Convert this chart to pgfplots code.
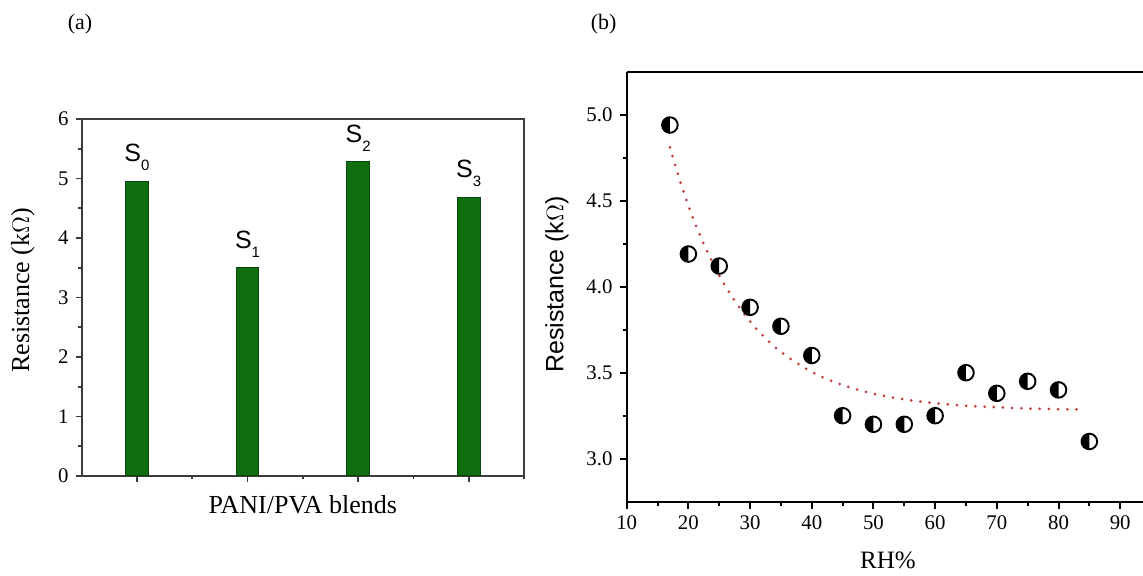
\documentclass[border=0pt]{standalone}
\usepackage{fontspec}
\setmainfont{Liberation Serif}
\setsansfont{Liberation Sans}
\usepackage{pgfplots}
\pgfplotsset{compat=1.18}
\usetikzlibrary{plotmarks}
\definecolor{bargreen}{RGB}{14,110,16}
\definecolor{baredge}{RGB}{10,70,10}
\definecolor{fitred}{RGB}{196,62,62}
\definecolor{axgray}{RGB}{60,60,60}
\begin{document}
\begin{tikzpicture}
\useasboundingbox (0,0) rectangle (571.5pt,288pt);
\pgfplotsset{
  /pgf/number format/assume math mode=true,
  every tick label/.append style={font=\fontsize{10.4}{12}\selectfont},
}
\node[font=\fontsize{11}{13}\selectfont] at (40pt,276pt) {(a)};
\node[font=\fontsize{11}{13}\selectfont] at (301.8pt,276pt) {(b)};
% ---------------- panel (a)
\begin{axis}[
  at={(40.85pt,50pt)}, anchor=south west,
  scale only axis, width=221.15pt, height=178.5pt,
  xmin=-0.5, xmax=3.5, ymin=0, ymax=6,
  xtick={0,1,2,3}, xticklabels={},
  minor xtick={0.5,1.5,2.5,3.5},
  ytick={0,1,2,3,4,5,6},
  minor ytick={0.5,1.5,2.5,3.5,4.5,5.5},
  xtick pos=left, ytick pos=left, tick align=outside,
  major tick length=3pt, minor tick length=1.6pt,
  every tick/.style={axgray, line width=0.9pt},
  axis line style={axgray, line width=0.9pt},
  xlabel={PANI/PVA blends}, ylabel={Resistance (k$\Omega$)},
  label style={font=\fontsize{13}{15}\selectfont},
  xlabel style={at={(axis description cs:0.5,-0.081)}, anchor=center},
  ylabel style={at={(axis description cs:-0.133,0.52)}, anchor=center},
  ybar, bar width=11.35pt,
  point meta=explicit symbolic,
  nodes near coords={\sffamily S\raisebox{-4.6pt}{\fontsize{7.5}{7.5}\selectfont\pgfplotspointmeta}},
  every node near coord/.append style={anchor=south, inner sep=0pt, yshift=5pt,
     font=\fontsize{12.5}{14}\selectfont, text=black},
]
\addplot[fill=bargreen, draw=baredge, line width=0.5pt] coordinates {
  (0,4.95) [0]
  (1,3.50) [1]
  (2,5.28) [2]
  (3,4.68) [3]
};
\end{axis}
% ---------------- panel (b)
\begin{axis}[
  at={(313.35pt,37.15pt)}, anchor=south west,
  scale only axis, width=258.15pt, height=215pt,
  xmin=10, xmax=93.7, ymin=2.75, ymax=5.25,
  axis x line=box, axis y line=left,
  axis line style={-, black, line width=1pt},
  every outer y axis line/.append style={-},
  every inner y axis line/.append style={-},
  xtick={10,20,...,90}, minor xtick={15,25,...,95},
  ytick={3,3.5,4,4.5,5}, minor ytick={3.25,3.75,4.25,4.75},
  xtick pos=left, ytick pos=left, tick align=outside,
  major tick length=3.6pt, minor tick length=2pt,
  every tick/.style={black, line width=1pt},
  yticklabel style={/pgf/number format/.cd, fixed, fixed zerofill, precision=1},
  xlabel={RH\%}, ylabel={\sffamily Resistance (k$\Omega$)},
  label style={font=\fontsize{12.5}{15}\selectfont},
  xlabel style={at={(axis description cs:0.506,-0.136)}, anchor=center},
  ylabel style={at={(axis description cs:-0.135,0.505)}, anchor=center},
  clip=false,
]
\addplot[fitred, line width=1.5pt, line cap=round, dash pattern=on 0pt off 4.6pt, smooth] coordinates {
  (17,4.81) (19,4.575) (21,4.376) (23,4.208) (25,4.065) (27,3.945) (29,3.843)
  (31,3.756) (33,3.683) (35,3.621) (37,3.569) (39,3.525) (41,3.487) (43,3.455)
  (45,3.428) (48,3.396) (51,3.370) (54,3.350) (57,3.335) (60,3.323) (64,3.310)
  (68,3.302) (72,3.296) (76,3.291) (80,3.288) (84,3.286)
};
\addplot[only marks, mark=halfcircle*, mark size=3.9pt,
  mark options={draw=black, fill=white, mark color=black, rotate=-90, line width=0.95pt, solid}]
  coordinates {
  (17,4.94) (20,4.19) (25,4.12) (30,3.88) (35,3.77) (40,3.60) (45,3.25)
  (50,3.20) (55,3.20) (60,3.25) (65,3.50) (70,3.38) (75,3.45) (80,3.40) (85,3.10)
};
\end{axis}
\end{tikzpicture}
\end{document}
